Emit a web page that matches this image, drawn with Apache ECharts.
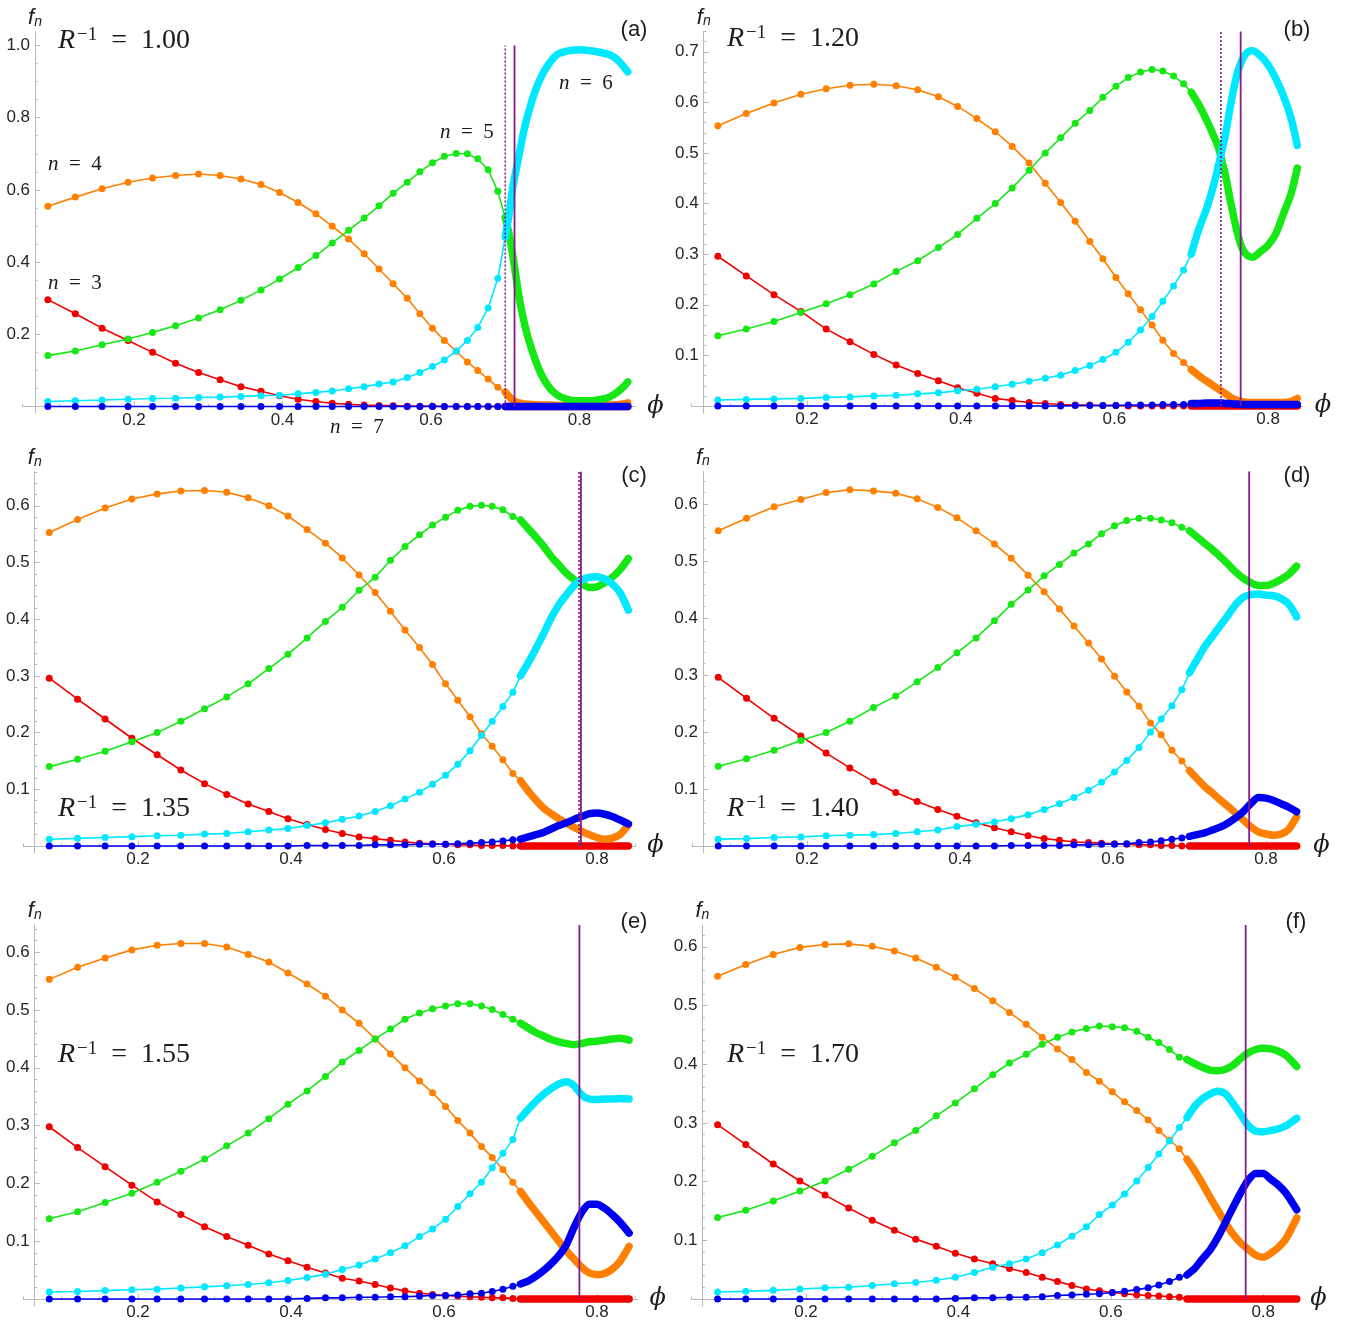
<!DOCTYPE html>
<html>
<head>
<meta charset="utf-8">
<title>Fraction of n-sided cells versus packing fraction</title>
<script src="https://cdn.jsdelivr.net/npm/echarts@6/dist/echarts.min.js"></script>
<style>
  html, body { margin: 0; padding: 0; background: #ffffff; }
  #chart { width: 1358px; height: 1322px; }
</style>
</head>
<body>
<div id="chart"></div>
<script>
// ---------------------------------------------------------------------------
// Data: fraction f_n of n-sided cells (n = 3..7) against packing fraction phi.
// Below phi = 0.70 the samples are sparse; above it they are dense.
// ---------------------------------------------------------------------------
const shellN = [3, 4, 5, 6, 7];
const rInv = ['1.00', '1.20', '1.35', '1.40', '1.55', '1.70'];
const panelTags = ['(a)', '(b)', '(c)', '(d)', '(e)', '(f)'];

const phiSparse = [0.084, 0.121, 0.157, 0.192, 0.225, 0.256, 0.287, 0.316, 0.344, 0.371, 0.396, 0.421, 0.445, 0.467,
  0.489, 0.510, 0.530, 0.549, 0.568, 0.585, 0.602, 0.618, 0.634, 0.649, 0.663, 0.677, 0.690];

const phiDenseA = [0.700, 0.705, 0.710, 0.715, 0.720, 0.725, 0.730, 0.740, 0.750, 0.760, 0.770, 0.780, 0.790, 0.800,
  0.810, 0.820, 0.830, 0.840, 0.850, 0.860, 0.865];
const phiDenseB = [0.700, 0.710, 0.720, 0.730, 0.735, 0.740, 0.745, 0.750, 0.755, 0.760, 0.765, 0.770, 0.775, 0.780,
  0.790, 0.800, 0.810, 0.820, 0.830, 0.838];
const phiDenseC = [0.700, 0.710, 0.720, 0.730, 0.740, 0.750, 0.760, 0.770, 0.780, 0.790, 0.800, 0.810, 0.820, 0.830, 0.841];
const phiDenseD = [0.700, 0.710, 0.720, 0.730, 0.740, 0.750, 0.760, 0.770, 0.780, 0.790, 0.800, 0.810, 0.820, 0.830, 0.840];
const phiDenseE = [0.700, 0.710, 0.720, 0.730, 0.740, 0.750, 0.760, 0.770, 0.780, 0.790, 0.800, 0.810, 0.820, 0.830, 0.842];
const phiDenseF = [0.700, 0.710, 0.720, 0.730, 0.740, 0.750, 0.760, 0.770, 0.780, 0.790, 0.800, 0.810, 0.820, 0.830, 0.844];

// (a) R^-1 = 1.00
const a3 = [0.296, 0.257, 0.217, 0.183, 0.150, 0.120, 0.094, 0.074, 0.055, 0.042, 0.030, 0.020, 0.014, 0.009, 0.006, 0.004, 0.003, 0.002, 0.001, 0.001, 0.001, 0, 0, 0, 0, 0, 0];
const a4 = [0.555, 0.580, 0.603, 0.621, 0.633, 0.640, 0.644, 0.640, 0.630, 0.615, 0.593, 0.565, 0.534, 0.499, 0.464, 0.423, 0.381, 0.340, 0.300, 0.257, 0.217, 0.183, 0.153, 0.123, 0.100, 0.076, 0.053];
const a5 = [0.141, 0.154, 0.171, 0.187, 0.205, 0.224, 0.245, 0.268, 0.294, 0.323, 0.353, 0.385, 0.418, 0.453, 0.488, 0.522, 0.556, 0.591, 0.621, 0.650, 0.675, 0.693, 0.701, 0.700, 0.686, 0.656, 0.596];
const a6 = [0.014, 0.016, 0.018, 0.020, 0.022, 0.023, 0.025, 0.026, 0.028, 0.030, 0.031, 0.035, 0.039, 0.043, 0.049, 0.055, 0.062, 0.068, 0.080, 0.094, 0.111, 0.129, 0.154, 0.183, 0.219, 0.273, 0.355];
const a7 = [0, 0, 0, 0, 0, 0, 0, 0, 0, 0, 0, 0, 0, 0, 0, 0, 0, 0, 0, 0, 0, 0, 0, 0, 0, 0, 0];
const a3d = [0, 0, 0, 0, 0, 0, 0, 0, 0, 0, 0, 0, 0, 0, 0, 0, 0, 0, 0, 0, 0];
const a4d = [0.040, 0.028, 0.018, 0.012, 0.009, 0.007, 0.006, 0.005, 0.004, 0.004, 0.003, 0.003, 0.003, 0.003, 0.003, 0.003, 0.003, 0.004, 0.005, 0.008, 0.010];
const a5d = [0.523, 0.480, 0.420, 0.352, 0.287, 0.238, 0.196, 0.132, 0.083, 0.051, 0.032, 0.022, 0.017, 0.016, 0.016, 0.017, 0.020, 0.026, 0.038, 0.056, 0.068];
const a6d = [0.470, 0.530, 0.605, 0.660, 0.712, 0.763, 0.805, 0.872, 0.920, 0.953, 0.975, 0.983, 0.987, 0.988, 0.987, 0.984, 0.980, 0.975, 0.962, 0.940, 0.927];
const a7d = [0, 0, 0, 0, 0, 0, 0, 0, 0, 0, 0, 0, 0, 0, 0, 0, 0, 0, 0, 0, 0];

// (b) R^-1 = 1.20
const b3 = [0.296, 0.257, 0.220, 0.187, 0.152, 0.127, 0.102, 0.081, 0.064, 0.050, 0.036, 0.025, 0.015, 0.011, 0.007, 0.005, 0.003, 0.002, 0.002, 0.001, 0.001, 0, 0, 0, 0, 0, 0];
const b4 = [0.554, 0.578, 0.599, 0.616, 0.627, 0.634, 0.636, 0.633, 0.625, 0.611, 0.592, 0.568, 0.542, 0.513, 0.480, 0.440, 0.402, 0.365, 0.325, 0.291, 0.254, 0.222, 0.190, 0.160, 0.130, 0.104, 0.086];
const b5 = [0.139, 0.152, 0.167, 0.185, 0.202, 0.220, 0.241, 0.266, 0.287, 0.313, 0.339, 0.371, 0.400, 0.431, 0.466, 0.500, 0.530, 0.559, 0.584, 0.610, 0.632, 0.649, 0.660, 0.665, 0.662, 0.652, 0.637];
const b6 = [0.012, 0.013, 0.014, 0.015, 0.017, 0.018, 0.020, 0.021, 0.024, 0.026, 0.030, 0.033, 0.038, 0.043, 0.049, 0.055, 0.061, 0.070, 0.080, 0.092, 0.106, 0.126, 0.150, 0.177, 0.207, 0.237, 0.269];
const b7 = [0, 0, 0, 0, 0, 0, 0, 0, 0, 0, 0, 0, 0, 0, 0, 0, 0, 0.001, 0.001, 0.001, 0.001, 0.002, 0.002, 0.002, 0.003, 0.003, 0.003];
const b3d = [0, 0, 0, 0, 0, 0, 0, 0, 0, 0, 0, 0, 0, 0, 0, 0, 0, 0, 0, 0];
const b4d = [0.072, 0.060, 0.049, 0.039, 0.034, 0.029, 0.024, 0.018, 0.014, 0.011, 0.009, 0.008, 0.007, 0.007, 0.007, 0.007, 0.007, 0.007, 0.009, 0.015];
const b5d = [0.620, 0.595, 0.565, 0.531, 0.512, 0.484, 0.453, 0.412, 0.376, 0.342, 0.316, 0.302, 0.296, 0.294, 0.305, 0.318, 0.340, 0.380, 0.420, 0.470];
const b6d = [0.300, 0.350, 0.390, 0.441, 0.473, 0.505, 0.540, 0.585, 0.625, 0.658, 0.680, 0.694, 0.701, 0.702, 0.692, 0.674, 0.647, 0.613, 0.568, 0.515];
const b7d = [0.005, 0.005, 0.006, 0.006, 0.006, 0.006, 0.005, 0.005, 0.004, 0.004, 0.003, 0.003, 0.003, 0.003, 0.003, 0.003, 0.003, 0.003, 0.003, 0.003];

// (c) R^-1 = 1.35
const c3 = [0.296, 0.259, 0.224, 0.190, 0.161, 0.134, 0.110, 0.091, 0.074, 0.061, 0.048, 0.038, 0.029, 0.022, 0.016, 0.013, 0.010, 0.007, 0.005, 0.004, 0.003, 0.002, 0.002, 0.001, 0.001, 0.001, 0];
const c4 = [0.553, 0.576, 0.596, 0.612, 0.621, 0.626, 0.627, 0.624, 0.614, 0.600, 0.582, 0.558, 0.534, 0.508, 0.478, 0.447, 0.414, 0.381, 0.350, 0.320, 0.286, 0.257, 0.228, 0.198, 0.176, 0.152, 0.128];
const c5 = [0.140, 0.153, 0.167, 0.184, 0.200, 0.220, 0.242, 0.263, 0.286, 0.313, 0.338, 0.367, 0.396, 0.421, 0.451, 0.474, 0.504, 0.528, 0.549, 0.566, 0.580, 0.592, 0.599, 0.601, 0.599, 0.593, 0.581];
const c6 = [0.012, 0.0135, 0.015, 0.0165, 0.018, 0.019, 0.021, 0.022, 0.025, 0.028, 0.031, 0.036, 0.041, 0.047, 0.053, 0.061, 0.071, 0.083, 0.095, 0.109, 0.125, 0.144, 0.168, 0.195, 0.220, 0.246, 0.271];
const c7 = [0, 0, 0, 0, 0, 0, 0, 0, 0, 0, 0, 0.001, 0.001, 0.001, 0.001, 0.002, 0.002, 0.002, 0.003, 0.003, 0.003, 0.004, 0.005, 0.006, 0.007, 0.009, 0.011];
const c3d = [0, 0, 0, 0, 0, 0, 0, 0, 0, 0, 0, 0, 0, 0, 0];
const c4d = [0.115, 0.097, 0.081, 0.067, 0.057, 0.048, 0.040, 0.033, 0.026, 0.020, 0.015, 0.012, 0.014, 0.020, 0.037];
const c5d = [0.575, 0.560, 0.545, 0.529, 0.511, 0.496, 0.481, 0.470, 0.462, 0.456, 0.457, 0.464, 0.474, 0.487, 0.507];
const c6d = [0.300, 0.323, 0.348, 0.374, 0.402, 0.425, 0.443, 0.459, 0.469, 0.474, 0.475, 0.471, 0.462, 0.447, 0.416];
const c7d = [0.012, 0.016, 0.020, 0.024, 0.030, 0.036, 0.041, 0.047, 0.052, 0.057, 0.058, 0.056, 0.052, 0.046, 0.039];

// (d) R^-1 = 1.40
const d3 = [0.296, 0.259, 0.224, 0.193, 0.163, 0.137, 0.113, 0.094, 0.078, 0.064, 0.052, 0.041, 0.032, 0.025, 0.018, 0.013, 0.010, 0.007, 0.006, 0.005, 0.004, 0.003, 0.002, 0.002, 0.001, 0.001, 0];
const d4 = [0.553, 0.575, 0.595, 0.608, 0.620, 0.625, 0.623, 0.619, 0.609, 0.594, 0.576, 0.553, 0.530, 0.505, 0.475, 0.446, 0.416, 0.386, 0.356, 0.328, 0.298, 0.270, 0.245, 0.216, 0.195, 0.168, 0.149];
const d5 = [0.140, 0.153, 0.168, 0.185, 0.199, 0.219, 0.243, 0.263, 0.288, 0.313, 0.339, 0.365, 0.395, 0.424, 0.449, 0.474, 0.494, 0.514, 0.530, 0.548, 0.562, 0.571, 0.575, 0.575, 0.572, 0.567, 0.559];
const d6 = [0.012, 0.013, 0.015, 0.016, 0.018, 0.019, 0.020, 0.022, 0.025, 0.028, 0.034, 0.038, 0.042, 0.048, 0.055, 0.064, 0.074, 0.085, 0.098, 0.112, 0.130, 0.150, 0.173, 0.200, 0.223, 0.246, 0.274];
const d7 = [0, 0, 0, 0, 0, 0, 0, 0, 0, 0, 0, 0, 0, 0.001, 0.001, 0.001, 0.001, 0.002, 0.002, 0.003, 0.003, 0.004, 0.006, 0.007, 0.009, 0.012, 0.014];
const d3d = [0, 0, 0, 0, 0, 0, 0, 0, 0, 0, 0, 0, 0, 0, 0];
const d4d = [0.132, 0.118, 0.104, 0.093, 0.081, 0.070, 0.058, 0.046, 0.034, 0.025, 0.021, 0.019, 0.021, 0.030, 0.051];
const d5d = [0.553, 0.542, 0.531, 0.520, 0.508, 0.495, 0.481, 0.470, 0.462, 0.457, 0.457, 0.461, 0.468, 0.477, 0.491];
const d6d = [0.304, 0.327, 0.350, 0.368, 0.386, 0.404, 0.423, 0.436, 0.441, 0.442, 0.440, 0.439, 0.434, 0.424, 0.402];
const d7d = [0.017, 0.020, 0.023, 0.028, 0.033, 0.040, 0.049, 0.060, 0.074, 0.085, 0.084, 0.080, 0.074, 0.068, 0.060];

// (e) R^-1 = 1.55
const e3 = [0.298, 0.262, 0.229, 0.197, 0.168, 0.146, 0.125, 0.108, 0.093, 0.078, 0.066, 0.055, 0.045, 0.036, 0.031, 0.025, 0.019, 0.014, 0.010, 0.008, 0.006, 0.005, 0.004, 0.003, 0.002, 0.002, 0.001];
const e4 = [0.553, 0.574, 0.590, 0.604, 0.612, 0.615, 0.615, 0.609, 0.596, 0.583, 0.564, 0.545, 0.524, 0.500, 0.477, 0.450, 0.424, 0.400, 0.377, 0.357, 0.333, 0.309, 0.287, 0.264, 0.245, 0.224, 0.202];
const e5 = [0.139, 0.151, 0.167, 0.183, 0.202, 0.221, 0.242, 0.265, 0.287, 0.312, 0.337, 0.360, 0.385, 0.410, 0.430, 0.450, 0.467, 0.484, 0.495, 0.502, 0.507, 0.511, 0.511, 0.507, 0.501, 0.492, 0.484];
const e6 = [0.012, 0.013, 0.0145, 0.016, 0.017, 0.019, 0.021, 0.023, 0.025, 0.028, 0.032, 0.037, 0.043, 0.051, 0.059, 0.069, 0.080, 0.092, 0.108, 0.121, 0.138, 0.160, 0.182, 0.202, 0.227, 0.252, 0.276];
const e7 = [0, 0, 0, 0, 0, 0, 0, 0, 0, 0, 0, 0.001, 0.002, 0.002, 0.003, 0.003, 0.004, 0.004, 0.005, 0.006, 0.006, 0.007, 0.009, 0.010, 0.013, 0.017, 0.022];
const e3d = [0, 0, 0, 0, 0, 0, 0, 0, 0, 0, 0, 0, 0, 0, 0];
const e4d = [0.186, 0.168, 0.151, 0.134, 0.117, 0.100, 0.083, 0.069, 0.055, 0.045, 0.042, 0.044, 0.052, 0.065, 0.091];
const e5d = [0.477, 0.469, 0.461, 0.455, 0.449, 0.445, 0.442, 0.440, 0.442, 0.445, 0.446, 0.448, 0.450, 0.451, 0.448];
const e6d = [0.313, 0.328, 0.342, 0.354, 0.364, 0.372, 0.376, 0.369, 0.353, 0.346, 0.345, 0.346, 0.346, 0.347, 0.346];
const e7d = [0.026, 0.031, 0.039, 0.049, 0.061, 0.075, 0.094, 0.124, 0.150, 0.164, 0.164, 0.157, 0.146, 0.133, 0.114];

// (f) R^-1 = 1.70
const f3 = [0.297, 0.263, 0.230, 0.201, 0.177, 0.155, 0.134, 0.117, 0.102, 0.090, 0.078, 0.068, 0.060, 0.052, 0.045, 0.037, 0.030, 0.023, 0.017, 0.014, 0.011, 0.009, 0.007, 0.006, 0.005, 0.004, 0.003];
const f4 = [0.550, 0.570, 0.587, 0.599, 0.604, 0.605, 0.601, 0.593, 0.581, 0.565, 0.548, 0.529, 0.508, 0.488, 0.468, 0.446, 0.426, 0.408, 0.386, 0.371, 0.353, 0.336, 0.321, 0.305, 0.287, 0.271, 0.256];
const f5 = [0.139, 0.151, 0.167, 0.184, 0.201, 0.221, 0.243, 0.266, 0.287, 0.312, 0.334, 0.358, 0.382, 0.402, 0.417, 0.434, 0.446, 0.455, 0.461, 0.465, 0.464, 0.462, 0.456, 0.446, 0.437, 0.425, 0.412];
const f6 = [0.012, 0.013, 0.0147, 0.017, 0.019, 0.020, 0.023, 0.026, 0.028, 0.032, 0.037, 0.045, 0.054, 0.060, 0.068, 0.079, 0.092, 0.107, 0.123, 0.144, 0.160, 0.179, 0.201, 0.224, 0.247, 0.269, 0.292];
const f7 = [0, 0, 0, 0, 0, 0, 0, 0, 0, 0, 0.001, 0.002, 0.002, 0.003, 0.003, 0.004, 0.006, 0.007, 0.008, 0.009, 0.011, 0.013, 0.016, 0.019, 0.024, 0.030, 0.037];
const f3d = [0, 0, 0, 0, 0, 0, 0, 0, 0, 0, 0, 0, 0, 0, 0];
const f4d = [0.238, 0.219, 0.197, 0.174, 0.152, 0.131, 0.111, 0.096, 0.085, 0.075, 0.071, 0.078, 0.088, 0.103, 0.138];
const f5d = [0.408, 0.401, 0.395, 0.390, 0.389, 0.391, 0.398, 0.409, 0.419, 0.425, 0.427, 0.426, 0.422, 0.415, 0.396];
const f6d = [0.309, 0.328, 0.341, 0.349, 0.354, 0.350, 0.334, 0.315, 0.296, 0.286, 0.285, 0.287, 0.290, 0.295, 0.308];
const f7d = [0.041, 0.052, 0.068, 0.083, 0.104, 0.129, 0.155, 0.180, 0.202, 0.214, 0.214, 0.204, 0.194, 0.180, 0.152];

// Transition markers: dotted and solid vertical lines at these phi values, from f = 0 up to lineTop
const dottedPhi = [0.700, 0.7386, 0.7765, null, null, null];
const solidPhi = [0.7125, 0.7643, 0.779, 0.778, 0.777, 0.777];
const lineTop = [1.0, 0.74, 0.66, 0.657, 0.647, 0.637];

// ---------------------------------------------------------------------------
// Assembly per panel
// ---------------------------------------------------------------------------
const sparseSets = [[a3, a4, a5, a6, a7], [b3, b4, b5, b6, b7], [c3, c4, c5, c6, c7],
                    [d3, d4, d5, d6, d7], [e3, e4, e5, e6, e7], [f3, f4, f5, f6, f7]];
const denseSets = [[a3d, a4d, a5d, a6d, a7d], [b3d, b4d, b5d, b6d, b7d], [c3d, c4d, c5d, c6d, c7d],
                   [d3d, d4d, d5d, d6d, d7d], [e3d, e4d, e5d, e6d, e7d], [f3d, f4d, f5d, f6d, f7d]];
const densePhis = [phiDenseA, phiDenseB, phiDenseC, phiDenseD, phiDenseE, phiDenseF];

const COLORS = { 3: '#f20000', 4: '#ff8000', 5: '#16e816', 6: '#00e8ff', 7: '#0000f0' };
const PURPLE = '#861a8a';
const AXIS_GRAY = '#b8b8b8';
const TEXT = '#1c1c1c';

// Frame geometry in pixels: x0 = pixel of phi 0.2, sx = pixels per unit phi,
// y0 = pixel of f = 0, sy = pixels per unit f; plus axis extents.
const frames = [
  { x0: 134, sx: 742.5, y0: 406.5, sy: 361, xMin: 0.05, xMax: 0.875, yAxisAt: 0.0667, yMin: -0.019, yMax: 1.038, yStep: 0.2, yMinor: 0.05 },
  { x0: 807, sx: 768.5, y0: 406,   sy: 506, xMin: 0.05, xMax: 0.845, yAxisAt: 0.0656, yMin: -0.014, yMax: 0.74,  yStep: 0.1, yMinor: 0.02 },
  { x0: 138, sx: 765,   y0: 846,   sy: 567, xMin: 0.05, xMax: 0.850, yAxisAt: 0.065,  yMin: -0.012, yMax: 0.66,  yStep: 0.1, yMinor: 0.02 },
  { x0: 807, sx: 765,   y0: 846,   sy: 570, xMin: 0.05, xMax: 0.846, yAxisAt: 0.064,  yMin: -0.012, yMax: 0.657, yStep: 0.1, yMinor: 0.02 },
  { x0: 138, sx: 765,   y0: 1299,  sy: 578, xMin: 0.05, xMax: 0.853, yAxisAt: 0.065,  yMin: -0.012, yMax: 0.647, yStep: 0.1, yMinor: 0.02 },
  { x0: 806, sx: 762,   y0: 1299,  sy: 587, xMin: 0.05, xMax: 0.846, yAxisAt: 0.064,  yMin: -0.012, yMax: 0.637, yStep: 0.1, yMinor: 0.02 }
];

// Annotation anchors (left/centre of each text)
const rLabelPos = [[58, 41], [727, 39], [58, 809], [727, 809], [58, 1055], [727, 1055]];
const tagPos = [[634, 30], [1297, 30], [634, 476], [1297, 476], [634, 922], [1296, 922]];
const shellLabelPos = [[48, 283], [48, 164], [440, 132], [559, 83], [330, 427]];

function tickValues(from, to, step, skipStep) {
  const out = [];
  for (let k = 1; k * step <= to + 1e-9; k++) {
    const v = +(k * step).toFixed(4);
    if (v < from - 1e-9) continue;
    if (skipStep && Math.abs(v / skipStep - Math.round(v / skipStep)) < 1e-6) continue;
    out.push(v);
  }
  return out;
}

const tickFont = { fontFamily: 'Liberation Sans, Arial, sans-serif', fontSize: 17, color: '#262626' };
const serif = 'Liberation Serif, DejaVu Serif, serif';

const grids = [], xAxes = [], yAxes = [], series = [], graphics = [];

frames.forEach((fr, i) => {
  const left = fr.x0 + (fr.xMin - 0.2) * fr.sx;
  const width = (fr.xMax - fr.xMin) * fr.sx;
  const top = fr.y0 - fr.yMax * fr.sy;
  const height = (fr.yMax - fr.yMin) * fr.sy;
  grids.push({ left, top, width, height, containLabel: false, outerBoundsMode: 'none' });

  const xMajor = tickValues(fr.xMin, fr.xMax, 0.2);
  const xMinor = tickValues(fr.xMin, fr.xMax, 0.05, 0.2);
  const yMajor = tickValues(0, fr.yMax, fr.yStep);
  const yMinor = tickValues(0, fr.yMax, fr.yMinor, fr.yStep);
  const yOff = -(fr.yAxisAt - fr.xMin) * fr.sx;

  const yi = yAxes.length;
  yAxes.push({
    type: 'value', gridIndex: i, position: 'left', offset: yOff, min: fr.yMin, max: fr.yMax,
    splitLine: { show: false },
    axisLine: { show: true, onZero: false, lineStyle: { color: AXIS_GRAY, width: 1 } },
    axisTick: { show: true, inside: true, length: 5, customValues: yMajor, lineStyle: { color: AXIS_GRAY } },
    axisLabel: { show: true, customValues: yMajor, margin: 5, formatter: v => v.toFixed(1), ...tickFont },
    name: '{f|f}{n|n}', nameLocation: 'end', nameGap: 3,
    nameTextStyle: {
      rich: {
        f: { fontFamily: 'Liberation Sans, Arial, sans-serif', fontStyle: 'italic', fontSize: 22, lineHeight: 22, color: TEXT },
        n: { fontFamily: 'Liberation Sans, Arial, sans-serif', fontStyle: 'italic', fontSize: 14, lineHeight: 13, verticalAlign: 'bottom', color: TEXT }
      }
    }
  });
  yAxes.push({
    type: 'value', gridIndex: i, position: 'left', offset: yOff, min: fr.yMin, max: fr.yMax,
    splitLine: { show: false }, axisLine: { show: false, onZero: false },
    axisTick: { show: true, inside: true, length: 2.5, customValues: yMinor, lineStyle: { color: AXIS_GRAY } },
    axisLabel: { show: false }
  });

  const xi = xAxes.length;
  xAxes.push({
    type: 'value', gridIndex: i, position: 'bottom', min: fr.xMin, max: fr.xMax,
    splitLine: { show: false },
    axisLine: { show: true, onZero: true, onZeroAxisIndex: yi, lineStyle: { color: AXIS_GRAY, width: 1 } },
    axisTick: { show: true, inside: true, length: 5, customValues: xMajor, lineStyle: { color: AXIS_GRAY } },
    axisLabel: { show: true, customValues: xMajor, margin: -2, formatter: v => v.toFixed(1), ...tickFont },
    name: '\u03D5', nameLocation: 'end', nameGap: 12,
    nameTextStyle: { fontFamily: 'DejaVu Serif, serif', fontStyle: 'italic', fontSize: 24, color: TEXT, verticalAlign: 'middle' }
  });
  xAxes.push({
    type: 'value', gridIndex: i, position: 'bottom', min: fr.xMin, max: fr.xMax,
    splitLine: { show: false }, axisLine: { show: false, onZero: true, onZeroAxisIndex: yi },
    axisTick: { show: true, inside: true, length: 2.5, customValues: xMinor, lineStyle: { color: AXIS_GRAY } },
    axisLabel: { show: false }
  });

  // curves for n = 3..7: thin line with dots (sparse), then a thick band (dense)
  const dPhi = densePhis[i];
  shellN.forEach((n, k) => {
    const color = COLORS[n];
    const sparse = sparseSets[i][k];
    const dense = denseSets[i][k];
    const sp = phiSparse.map((p, j) => [p, sparse[j]]);
    sp.push({ value: [dPhi[0], dense[0]], symbol: 'none' });
    series.push({
      type: 'line', xAxisIndex: xi, yAxisIndex: yi, data: sp, symbol: 'circle', symbolSize: 7,
      lineStyle: { color, width: 1.6 }, itemStyle: { color, borderWidth: 0 }, clip: false, silent: true
    });
    series.push({
      type: 'line', xAxisIndex: xi, yAxisIndex: yi, data: dPhi.map((p, j) => [p, dense[j]]),
      symbol: 'none', showSymbol: false, smooth: 0.25,
      lineStyle: { color, width: 7.5, cap: 'round', join: 'round' }, clip: false, silent: true
    });
  });

  // transition markers
  if (dottedPhi[i] !== null) {
    series.push({
      type: 'line', xAxisIndex: xi, yAxisIndex: yi, symbol: 'none', silent: true,
      data: [[dottedPhi[i], 0], [dottedPhi[i], lineTop[i]]],
      lineStyle: { color: PURPLE, width: 1.6, type: [2, 2] }
    });
  }
  series.push({
    type: 'line', xAxisIndex: xi, yAxisIndex: yi, symbol: 'none', silent: true,
    data: [[solidPhi[i], 0], [solidPhi[i], lineTop[i]]],
    lineStyle: { color: PURPLE, width: 1.8 }
  });

  // R^-1 label
  graphics.push({
    type: 'text', x: rLabelPos[i][0], y: rLabelPos[i][1], silent: true,
    style: {
      text: '{R|R}{s|\u22121}{t|\u2002=\u2002' + rInv[i] + '}',
      align: 'left', verticalAlign: 'middle',
      rich: {
        R: { fontFamily: serif, fontStyle: 'italic', fontSize: 28, lineHeight: 30, fill: TEXT },
        s: { fontFamily: serif, fontSize: 19, lineHeight: 19, verticalAlign: 'top', fill: TEXT, padding: [0, 0, 0, 2] },
        t: { fontFamily: serif, fontSize: 28, lineHeight: 30, fill: TEXT }
      }
    }
  });
  // panel tag
  graphics.push({
    type: 'text', x: tagPos[i][0], y: tagPos[i][1], silent: true,
    style: { text: panelTags[i], align: 'center', verticalAlign: 'middle',
             fontFamily: 'Liberation Sans, Arial, sans-serif', fontSize: 22, fill: TEXT }
  });
});

// n = 3..7 labels in the first panel
shellN.forEach((n, k) => {
  graphics.push({
    type: 'text', x: shellLabelPos[k][0], y: shellLabelPos[k][1], silent: true,
    style: {
      text: '{i|n}{t|\u2002=\u2002' + n + '}', align: 'left', verticalAlign: 'middle',
      rich: {
        i: { fontFamily: serif, fontStyle: 'italic', fontSize: 21, lineHeight: 22, fill: TEXT },
        t: { fontFamily: serif, fontSize: 21, lineHeight: 22, fill: TEXT }
      }
    }
  });
});

const chart = echarts.init(document.getElementById('chart'), null, { renderer: 'canvas', width: 1358, height: 1322 });
chart.setOption({
  animation: false,
  backgroundColor: '#ffffff',
  grid: grids,
  xAxis: xAxes,
  yAxis: yAxes,
  series: series,
  graphic: graphics
});
</script>
</body>
</html>
